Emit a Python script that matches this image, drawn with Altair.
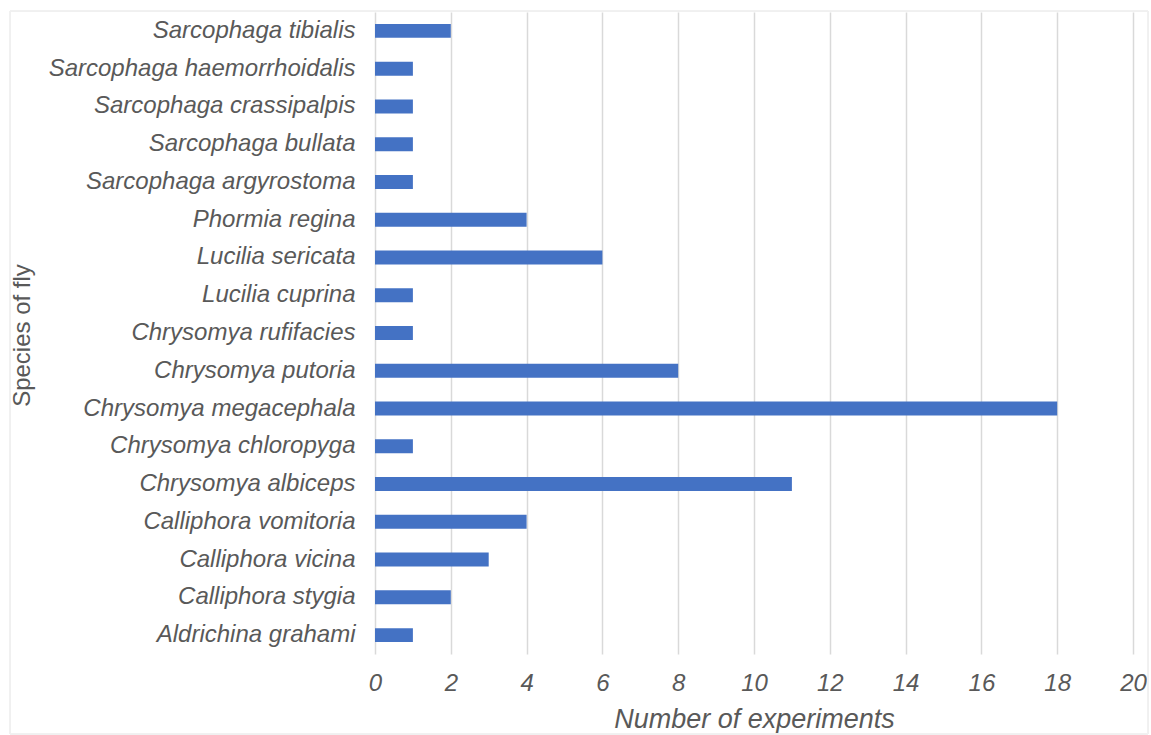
import altair as alt
import pandas as pd

species = [
    "Sarcophaga tibialis",
    "Sarcophaga haemorrhoidalis",
    "Sarcophaga crassipalpis",
    "Sarcophaga bullata",
    "Sarcophaga argyrostoma",
    "Phormia regina",
    "Lucilia sericata",
    "Lucilia cuprina",
    "Chrysomya rufifacies",
    "Chrysomya putoria",
    "Chrysomya megacephala",
    "Chrysomya chloropyga",
    "Chrysomya albiceps",
    "Calliphora vomitoria",
    "Calliphora vicina",
    "Calliphora stygia",
    "Aldrichina grahami",
]
experiments = [2, 1, 1, 1, 1, 4, 6, 1, 1, 8, 18, 1, 11, 4, 3, 2, 1]

df = pd.DataFrame({"species": species, "n": experiments})

W, H = 758, 642
FONT = "Liberation Sans"
GREY = "#595959"

bars = alt.Chart(df).mark_bar(color="#4472C4").encode(
    x=alt.X(
        "n:Q",
        scale=alt.Scale(domain=[0, 20], nice=False),
        axis=alt.Axis(
            values=list(range(0, 21, 2)),
            title="Number of experiments",
            titleFont=FONT,
            titleFontSize=27,
            titleFontStyle="italic",
            titleFontWeight="normal",
            titleColor=GREY,
            titlePadding=11,
            labelFont=FONT,
            labelFontSize=24,
            labelFontStyle="italic",
            labelColor=GREY,
            labelPadding=17,
            labelFlush=False,
            labelOverlap=False,
            ticks=False,
            domain=False,
            grid=True,
            gridColor="#d9d9d9",
            gridWidth=1.5,
        ),
    ),
    y=alt.Y(
        "species:N",
        sort=species,
        scale=alt.Scale(paddingInner=0.63, paddingOuter=0.315),
        axis=alt.Axis(
            title="Species of fly",
            titleFont=FONT,
            titleFontSize=24,
            titleFontWeight="normal",
            titleColor=GREY,
            titleAngle=270,
            titleX=-353,
            titleY=H / 2 + 2,
            titleAlign="center",
            titleBaseline="middle",
            labelFont=FONT,
            labelFontSize=24,
            labelFontStyle="italic",
            labelColor=GREY,
            labelPadding=20,
            labelLimit=400,
            ticks=False,
            domain=False,
            grid=False,
        ),
    ),
)

border = alt.Chart(df).mark_rect(
    fill=None, stroke="#f0f0f0", strokeWidth=1
).encode(
    x=alt.value(-365), x2=alt.value(W + 15), y=alt.value(-1), y2=alt.value(H + 80)
)

chart = (
    alt.layer(border, bars)
    .properties(
        width=W,
        height=H,
        autosize=alt.AutoSizeParams(type="none"),
        padding={"left": 375, "top": 12, "right": 18, "bottom": 81},
        background="white",
    )
    .configure_view(stroke=None)
)

chart.save("out.html", embed_options={"renderer": "svg", "actions": False})
